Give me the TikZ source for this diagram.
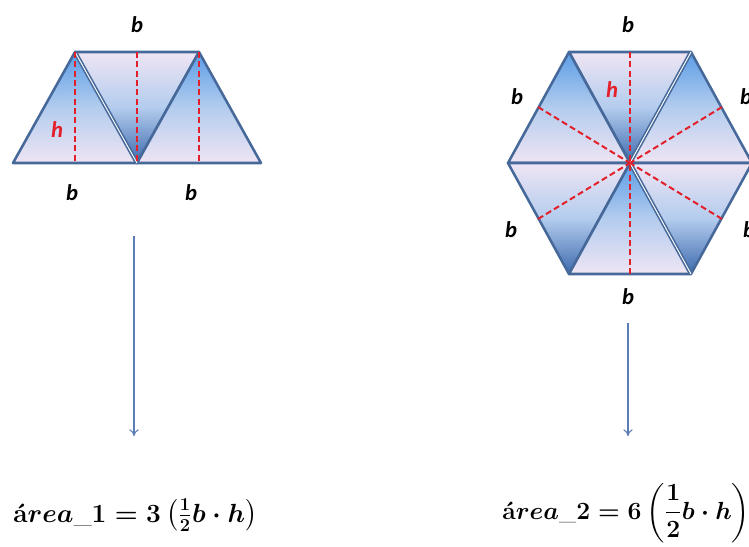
\documentclass[tikz,border=0pt]{standalone}
\usepackage{amsmath}
\usepackage{graphicx}
\usepackage{fontspec}
\newfontfamily\labelfont{Carlito}
\usetikzlibrary{arrows.meta, positioning}

\definecolor{edgeblue}{HTML}{46699A}
\definecolor{triblue}{HTML}{5B9DE6}
\definecolor{trimid}{HTML}{B3CCEE}
\definecolor{trilav}{HTML}{EFE5F4}
\definecolor{tridark}{HTML}{3D6AAD}
\definecolor{hred}{HTML}{E3202A}
\definecolor{arrowblue}{HTML}{5A7DB5}

\newsavebox{\areaonebox}
\newsavebox{\areatwobox}

\tikzset{
  edge/.style={draw=edgeblue, line width=1.9pt, line join=round},
  uptri/.style={edge, top color=triblue, bottom color=trilav, middle color=trimid},
  downtri/.style={edge, top color=trilav, bottom color=tridark, middle color=trimid},
  gapedge/.style={draw=edgeblue, line width=1.2pt, double=white, double distance=0.7pt},
  heightline/.style={hred, line width=1.5pt, dash pattern=on 4.5pt off 2.5pt},
  blabel/.style={font=\labelfont\bfseries\itshape\fontsize{17}{20}\selectfont, inner sep=0pt},
  hlabel/.style={blabel, text=hred},
  areabox/.style={inner sep=0pt},
  arrowline/.style={-{To[length=5pt,width=7pt]}, arrowblue, line width=0.8pt}
}

\begin{document}
\sbox{\areaonebox}{\scalebox{1.14}{\fontsize{17.28}{20}\selectfont\boldmath
  $\textbf{á}rea\_1 = 3\left(\tfrac{1}{2}b\cdot h\right)$}}
\sbox{\areatwobox}{\scalebox{1.075}{\fontsize{17.28}{20}\selectfont\boldmath
  $\displaystyle\textbf{á}rea\_2 = 6\left(\frac{1}{2}b\cdot h\right)$}}
\begin{tikzpicture}[x=0.75pt, y=-0.75pt]

    % --- CANVAS ---
    \fill[white] (0,0) rectangle (749,546);
    \clip (0,0) rectangle (749,546);

    % --- TRAPEZOID (three triangles) ---
    \coordinate (tA) at (75,52);
    \coordinate (tB) at (199,52);
    \coordinate (tC) at (13,163);
    \coordinate (tM) at (137,163);
    \coordinate (tD) at (261,163);

    \shadedraw[uptri]   (tC) -- (tA) -- (tM) -- cycle;
    \shadedraw[downtri] (tA) -- (tB) -- (tM) -- cycle;
    \shadedraw[uptri]   (tM) -- (tB) -- (tD) -- cycle;
    \draw[gapedge] (tA) -- (tM);

    % Heights
    \coordinate (tAf) at (75,163);
    \coordinate (tMt) at (137,52);
    \coordinate (tBf) at (199,163);
    \draw[heightline] (tA) -- (tAf);
    \draw[heightline] (tMt) -- (tM);
    \draw[heightline] (tB) -- (tBf);

    % Labels
    \node[blabel] (tbtop) at (137,25) {b};
    \node[blabel] (tbl)   at (72,193) {b};
    \node[blabel] (tbr)   at (191,193) {b};
    \node[hlabel] (th)    at (57,130) {h};

    % --- HEXAGON (six triangles) ---
    \coordinate (hO)  at (630,163);
    \coordinate (hL)  at (508,163);
    \coordinate (hTL) at (569,52);
    \coordinate (hTR) at (691,52);
    \coordinate (hR)  at (752,163);
    \coordinate (hBR) at (691,274);
    \coordinate (hBL) at (569,274);

    \shadedraw[downtri] (hTL) -- (hTR) -- (hO) -- cycle;
    \shadedraw[uptri]   (hL) -- (hTL) -- (hO) -- cycle;
    \shadedraw[uptri]   (hO) -- (hTR) -- (hR) -- cycle;
    \shadedraw[downtri] (hL) -- (hO) -- (hBL) -- cycle;
    \shadedraw[downtri] (hO) -- (hR) -- (hBR) -- cycle;
    \shadedraw[uptri]   (hO) -- (hBR) -- (hBL) -- cycle;
    \draw[gapedge] (hO) -- (hTR);
    \draw[gapedge] (hO) -- (hBR);

    % Apothems
    \coordinate (mT)  at (630,52);
    \coordinate (mB)  at (630,274);
    \coordinate (mTL) at (538,107);
    \coordinate (mBL) at (538,219);
    \coordinate (mTR) at (722,107);
    \coordinate (mBR) at (722,219);
    \foreach \m in {mT, mB, mTL, mBL, mTR, mBR}
        \draw[heightline] (\m) -- (hO);

    % Labels
    \node[blabel] (hbtop) at (628,25) {b};
    \node[blabel] (hbtl)  at (517,97) {b};
    \node[blabel] (hbbl)  at (511,230) {b};
    \node[blabel] (hbtr)  at (746,97) {b};
    \node[blabel] (hbbr)  at (749,230) {b};
    \node[blabel] (hbbot) at (628,297) {b};
    \node[hlabel] (hh)    at (612,90) {h};

    % --- ARROWS ---
    \coordinate (arr1top) at (134,236);
    \coordinate (arr1tip) at (134,436);
    \coordinate (arr2top) at (628,323);
    \coordinate (arr2tip) at (628,436);
    \draw[arrowline] (arr1top) -- (arr1tip);
    \draw[arrowline] (arr2top) -- (arr2tip);

    % --- AREA FORMULAS ---
    \node[areabox, anchor=base west] (area1) at (13,522) {\usebox{\areaonebox}};
    \node[areabox, anchor=base west] (area2) at (502,519) {\usebox{\areatwobox}};

\end{tikzpicture}
\end{document}
